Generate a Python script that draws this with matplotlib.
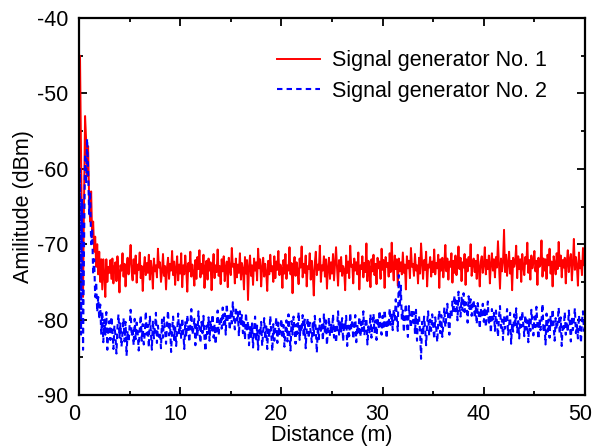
import numpy as np
import matplotlib
matplotlib.use("Agg")
import matplotlib.pyplot as plt
from matplotlib.ticker import MultipleLocator
from matplotlib.transforms import ScaledTranslation

plt.rcParams["font.family"] = ["Liberation Sans", "DejaVu Sans"]
plt.rcParams["axes.unicode_minus"] = False

# Sampling positions (m), 0.1 m apart
distance = np.round(np.arange(0.0, 50.0001, 0.1), 2)

# Signal generator No. 1 (dBm): launch region 0.0-2.9 m, then one row per metre
sg1_near = [-62, -45, -58, -70, -77, -64, -53, -56, -61, -57,
            -64, -67, -63, -69, -67, -71, -69, -73, -70, -74,
            -71, -75, -72, -76, -72, -74, -77, -72, -75, -73]
sg1_far = [
    -73.8, -72.1, -74.6, -71.9, -75.2, -73.0, -72.4, -74.9, -71.6, -73.7,
    -76.4, -72.8, -73.5, -71.2, -74.3, -72.6, -75.6, -73.1, -71.8, -74.0,
    -72.3, -70.1, -73.6, -74.8, -72.0, -73.9, -71.5, -75.1, -72.7, -73.4,
    -71.1, -74.5, -72.9, -76.2, -73.2, -71.7, -74.1, -72.5, -73.8, -71.4,
    -74.7, -72.2, -73.3, -75.9, -71.9, -73.6, -72.8, -74.4, -70.6, -73.1,
    -72.4, -75.0, -73.7, -71.3, -74.2, -72.9, -76.0, -73.0, -71.8, -74.6,
    -72.6, -73.5, -70.9, -74.1, -72.3, -75.4, -73.2, -71.6, -74.8, -72.7,
    -73.9, -71.2, -75.7, -72.8, -74.0, -71.5, -73.4, -76.3, -72.5, -73.6,
    -71.0, -74.3, -72.7, -73.8, -75.5, -72.1, -74.6, -71.7, -73.3, -70.8,
    -74.4, -72.6, -73.9, -71.4, -75.8, -73.0, -72.2, -74.7, -71.9, -73.5,
    -72.4, -76.1, -73.2, -71.3, -74.5, -72.8, -73.7, -70.7, -74.2, -72.9,
    -75.3, -72.0, -73.6, -71.6, -74.9, -73.1, -72.3, -75.7, -71.8, -73.4,
    -74.1, -70.5, -73.0, -72.6, -75.2, -71.9, -74.4, -72.7, -73.8, -71.2,
    -74.7, -72.5, -73.3, -76.0, -71.7, -73.9, -72.1, -77.4, -73.0, -71.5,
    -74.2, -72.8, -75.4, -71.9, -73.5, -72.4, -74.8, -70.6, -73.2, -72.0,
    -75.6, -73.1, -71.8, -74.3, -72.6, -73.7, -76.2, -72.2, -74.0, -71.4,
    -73.6, -72.9, -75.0, -71.6, -74.5, -72.3, -73.4, -70.9, -74.1, -72.7,
    -73.2, -75.8, -72.1, -73.9, -71.3, -74.6, -72.8, -73.5, -70.4, -74.0,
    -72.5, -76.5, -73.0, -71.7, -74.2, -72.4, -73.6, -75.3, -71.9, -73.1,
    -70.3, -74.4, -72.6, -73.8, -71.5, -75.6, -72.9, -73.3, -71.2, -74.7,
    -72.2, -73.7, -76.8, -72.5, -71.0, -74.1, -72.7, -73.4, -70.2, -75.0,
    -72.8, -73.5, -71.6, -74.3, -72.0, -75.9, -73.1, -71.8, -74.6, -72.4,
    -73.9, -71.3, -74.8, -72.6, -70.4, -73.2, -75.5, -72.1, -73.6, -71.7,
    -74.2, -72.9, -73.4, -76.1, -71.5, -73.8, -72.3, -74.5, -70.2, -73.0,
    -72.7, -75.2, -71.9, -73.5, -72.4, -74.0, -71.1, -76.0, -72.8, -73.3,
    -71.6, -74.4, -72.5, -73.7, -69.9, -74.9, -72.2, -73.1, -75.7, -72.0,
    -73.6, -71.4, -74.1, -72.6, -75.3, -71.8, -73.2, -72.3, -74.6, -70.6,
    -73.4, -72.1, -75.8, -71.7, -73.0, -72.5, -74.3, -71.2, -73.7, -69.8,
    -72.9, -74.8, -71.5, -73.3, -72.0, -75.5, -71.9, -73.6, -72.4, -74.0,
    -71.1, -73.8, -72.7, -76.0, -71.6, -73.2, -72.2, -74.5, -70.5, -73.0,
    -72.6, -74.2, -71.3, -73.5, -72.8, -75.2, -71.8, -73.9, -69.9, -72.4,
    -74.6, -72.1, -73.4, -71.0, -75.6, -72.7, -73.1, -71.7, -74.3, -72.3,
    -73.7, -70.7, -74.0, -72.5, -73.2, -71.4, -75.8, -72.0, -73.5, -71.8,
    -74.4, -72.6, -70.1, -73.6, -71.9, -74.7, -72.3, -73.0, -71.2, -75.1,
    -72.2, -73.8, -71.5, -74.1, -72.7, -70.3, -73.3, -71.8, -74.9, -72.4,
    -73.1, -71.3, -75.4, -72.0, -73.6, -71.7, -72.9, -70.0, -74.2, -72.5,
    -71.9, -73.7, -72.2, -74.6, -71.4, -73.0, -75.6, -72.3, -71.6, -73.8,
    -72.7, -70.4, -74.0, -72.1, -73.3, -71.5, -75.2, -72.6, -71.2, -73.5,
    -72.0, -74.4, -71.7, -73.1, -69.6, -72.8, -75.9, -71.9, -73.6, -72.3,
    -68.1, -73.7, -71.4, -74.2, -72.5, -71.0, -73.9, -72.2, -76.1, -71.8,
    -73.0, -72.4, -70.2, -74.5, -71.6, -73.3, -72.0, -75.0, -71.3, -72.9,
    -74.1, -71.7, -72.6, -69.8, -73.8, -72.1, -74.7, -71.5, -73.2, -72.4,
    -70.9, -73.6, -72.2, -75.4, -71.8, -73.0, -72.7, -69.5, -74.3, -71.9,
    -73.5, -72.0, -74.6, -71.4, -72.8, -70.6, -73.9, -72.3, -75.6, -71.6,
    -72.5, -74.0, -71.2, -73.3, -69.7, -72.9, -71.5, -74.4, -72.1, -73.1,
    -71.8, -75.2, -72.4, -70.8, -73.7, -72.0, -71.3, -74.8, -72.6, -69.3,
    -73.4, -71.7, -72.9, -75.5, -71.1, -73.2, -72.2, -74.1, -70.5, -72.8,
    -71.6]

# Signal generator No. 2 (dBm)
sg2_near = [-83, -60, -82, -64, -84, -70, -58, -62, -56, -60,
            -66, -63, -70, -68, -74, -72, -77, -75, -79, -77,
            -80, -78, -82, -79, -83, -80, -82, -79, -84, -81]
sg2_far = [
    -80.2, -82.7, -79.6, -81.4, -83.9, -80.8, -82.1, -84.5, -81.0, -79.3,
    -82.4, -80.5, -83.6, -81.7, -79.8, -82.9, -80.3, -84.8, -81.5, -83.0,
    -80.9, -78.7, -82.2, -81.1, -83.4, -79.9, -82.6, -80.4, -81.8, -84.1,
    -81.3, -79.4, -82.8, -80.6, -83.3, -81.9, -78.9, -82.0, -80.7, -83.7,
    -79.5, -81.6, -84.0, -80.1, -82.5, -81.2, -79.1, -83.1, -80.8, -82.3,
    -81.7, -83.8, -80.0, -82.4, -79.7, -81.4, -83.2, -80.5, -78.8, -82.1,
    -80.6, -84.3, -81.3, -79.6, -82.7, -80.9, -83.5, -81.6, -79.2, -82.0,
    -80.4, -82.6, -79.8, -81.5, -83.9, -80.2, -82.3, -79.4, -81.1, -83.0,
    -80.7, -78.6, -82.0, -81.3, -79.9, -83.4, -80.5, -82.2, -78.9, -81.6,
    -83.1, -80.3, -81.8, -79.5, -82.5, -84.2, -80.8, -81.9, -79.7, -82.8,
    -80.1, -81.7, -79.3, -82.4, -80.6, -83.3, -81.0, -78.8, -82.1, -80.4,
    -79.6, -81.2, -78.4, -80.7, -79.2, -82.0, -77.9, -80.3, -79.5, -81.4,
    -78.7, -80.5, -77.7, -79.9, -81.3, -78.3, -80.1, -79.0, -82.2, -78.9,
    -80.6, -79.4, -81.8, -80.0, -82.7, -79.1, -81.5, -80.2, -83.4, -81.0,
    -82.3, -80.5, -83.7, -81.2, -79.6, -82.9, -80.8, -84.0, -81.4, -82.1,
    -80.3, -83.5, -81.7, -79.8, -82.6, -80.9, -83.9, -81.1, -82.4, -79.5,
    -81.9, -84.2, -80.6, -82.8, -81.0, -79.7, -83.1, -80.4, -82.2, -81.3,
    -79.9, -82.5, -80.7, -83.6, -81.5, -80.1, -82.9, -79.3, -81.8, -84.1,
    -80.2, -82.0, -79.6, -81.4, -83.2, -80.6, -81.9, -79.0, -82.7, -80.8,
    -81.6, -79.4, -82.3, -80.0, -83.8, -81.2, -79.8, -82.5, -80.4, -81.7,
    -83.0, -80.3, -82.1, -79.5, -81.3, -84.4, -80.9, -82.6, -79.9, -81.5,
    -80.7, -82.8, -79.2, -81.9, -80.1, -83.4, -81.1, -79.7, -82.2, -80.5,
    -81.8, -79.3, -82.4, -80.6, -83.1, -81.0, -78.9, -82.0, -80.2, -81.6,
    -79.8, -82.9, -80.4, -81.3, -79.5, -83.5, -80.8, -82.2, -79.1, -81.4,
    -80.0, -82.6, -81.2, -79.4, -83.0, -80.7, -81.9, -79.6, -82.3, -80.3,
    -81.5, -78.9, -82.1, -80.5, -79.8, -83.3, -80.9, -81.7, -79.3, -82.4,
    -80.6, -79.2, -81.8, -80.1, -82.7, -79.7, -81.2, -78.8, -80.9, -82.0,
    -79.5, -81.3, -78.7, -80.4, -82.5, -79.9, -81.0, -78.5, -80.7, -79.1,
    -81.4, -78.6, -80.2, -77.3, -79.8, -81.5, -74.1, -78.4, -75.5, -80.0,
    -78.8, -81.7, -79.3, -77.9, -80.6, -82.3, -78.2, -79.9, -81.1, -78.6,
    -80.4, -79.0, -81.9, -78.7, -82.8, -80.1, -79.5, -81.6, -85.2, -80.3,
    -82.0, -79.6, -81.2, -83.4, -80.5, -78.9, -82.1, -80.0, -81.5, -79.3,
    -80.8, -82.6, -79.7, -81.1, -83.0, -80.2, -78.8, -81.8, -79.4, -82.3,
    -80.6, -78.4, -81.0, -79.6, -77.9, -80.3, -82.0, -78.7, -79.8, -77.6,
    -79.2, -76.8, -78.9, -77.5, -80.1, -76.3, -78.4, -79.6, -77.1, -78.8,
    -76.5, -79.0, -77.7, -78.3, -80.4, -76.9, -78.6, -77.3, -79.5, -78.0,
    -77.4, -79.8, -78.2, -80.6, -77.8, -79.1, -81.2, -78.5, -79.7, -77.9,
    -80.3, -78.4, -81.0, -79.2, -77.6, -80.7, -79.4, -81.8, -78.6, -80.0,
    -79.1, -81.5, -78.8, -80.4, -82.3, -79.6, -78.2, -81.1, -80.0, -82.7,
    -79.5, -81.2, -80.3, -78.6, -82.0, -80.8, -79.1, -83.2, -80.5, -81.6,
    -79.3, -80.9, -78.5, -81.7, -80.2, -82.5, -79.7, -81.0, -78.9, -80.6,
    -82.2, -79.4, -81.3, -80.1, -83.0, -79.8, -81.5, -78.7, -80.4, -82.1,
    -79.6, -81.0, -78.3, -80.8, -82.6, -79.9, -81.4, -80.2, -77.9, -81.7,
    -80.5, -83.3, -79.2, -81.6, -80.0, -82.4, -79.5, -81.1, -78.6, -80.9,
    -82.8, -79.8, -81.3, -80.4, -78.4, -81.9, -79.7, -83.5, -80.6, -81.2,
    -79.0, -82.0, -80.3, -81.7, -78.8, -80.5, -82.9, -79.6, -81.4, -80.1,
    -78.5, -81.8, -80.7, -82.5, -79.4, -81.0, -83.1, -80.2, -78.9, -81.5,
    -80.6]

sg1 = np.array(sg1_near + sg1_far)
sg2 = np.array(sg2_near + sg2_far)

labels = ["Signal generator No. 1", "Signal generator No. 2"]
fs = 15.5

fig = plt.figure(figsize=(5.92, 4.46), dpi=100)
ax = fig.add_axes([79 / 592, 51 / 446, 506 / 592, 377 / 446])

ax.plot(distance, sg1, color="#ff0000", lw=1.4, label=labels[0])
ax.plot(distance, sg2, color="#0000ff", lw=1.5,
        linestyle=(0, (2.6, 2.0)), label=labels[1])

ax.set_xlim(0, 50)
ax.set_ylim(-90, -40)
ax.xaxis.set_major_locator(MultipleLocator(10))
ax.xaxis.set_minor_locator(MultipleLocator(5))
ax.yaxis.set_major_locator(MultipleLocator(10))
ax.yaxis.set_minor_locator(MultipleLocator(5))

ax.tick_params(which="both", direction="in", top=True, right=True,
               width=1.3, labelsize=fs)
ax.tick_params(which="major", length=6)
ax.tick_params(axis="x", which="major", pad=6.5)
ax.tick_params(axis="y", which="major", pad=8)
ax.tick_params(which="minor", length=3)
for s in ax.spines.values():
    s.set_linewidth(1.6)

# x tick labels sit a little left of their ticks
shift = ScaledTranslation(-0.05, 0, fig.dpi_scale_trans)
for lab in ax.get_xticklabels():
    lab.set_transform(lab.get_transform() + shift)

ax.set_xlabel("Distance (m)", fontsize=fs, labelpad=0)
ax.set_ylabel("Amilitude (dBm)", fontsize=fs, labelpad=2)

ax.legend(loc="upper right", bbox_to_anchor=(0.925, 0.915), frameon=False,
          fontsize=fs, handlelength=2.0, handletextpad=0.55,
          labelspacing=0.44, borderpad=0, borderaxespad=0)

fig.savefig("out.png", dpi=100)
